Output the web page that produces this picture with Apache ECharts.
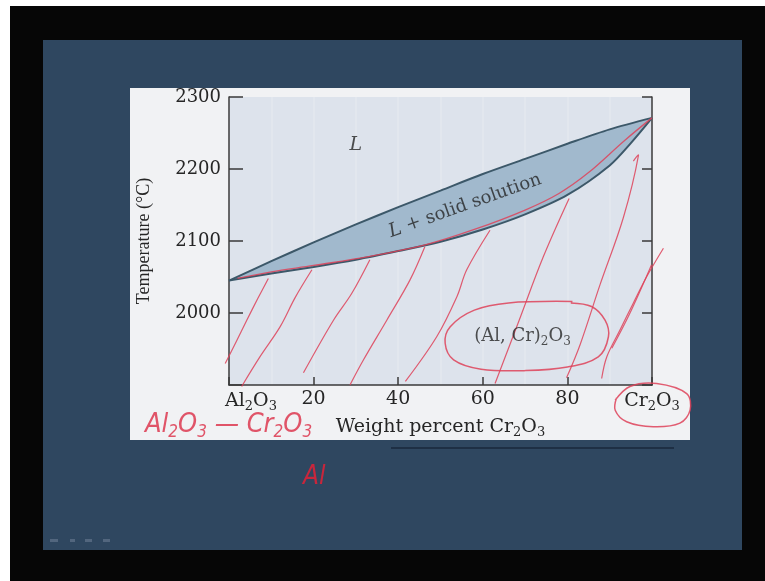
<!DOCTYPE html>
<html>
<head>
<meta charset="utf-8">
<style>
  html, body { margin: 0; padding: 0; background: #ffffff; }
  #chart { width: 765px; height: 581px; }
</style>
<script src="https://cdn.jsdelivr.net/npm/echarts@6/dist/echarts.min.js"></script>
</head>
<body>
<div id="chart"></div>
<script>
// ---- axis ticks / labels ----
const xTicks = [0, 20, 40, 60, 80, 100];
const xEndLabels = [['Al', '2', 'O', '3'], ['Cr', '2', 'O', '3']];
const yTicks = [1900, 2000, 2100, 2200, 2300];
const xName = ['Weight percent Cr', '2', 'O', '3'];
const yName = 'Temperature (°C)';

// ---- phase boundaries (wt% Cr2O3, °C) ----
const liquidus = [[0,2045],[10,2072],[20,2098],[30,2123],[40,2147],[50,2170],[60,2193],[70,2214],[80,2235],[90,2255],[100,2271]];
const solidus  = [[0,2045],[10,2055],[20,2064],[30,2074],[40,2086],[50,2099],[60,2116],[70,2137],[80,2164],[90,2205],[95,2236],[100,2271]];

// ---- region labels ----
const regionText = ['L', 'L + solid solution', ['(Al, Cr)', '2', 'O', '3']];

// ---- red pen annotations (wt% Cr2O3, °C) ----
const penTrace = [[2,2048],[10,2057],[20,2066],[33.6,2079],[46.6,2095],[58,2116],[70,2143],[78,2166],[85,2195],[93.6,2240],[100,2271]];
const hatch1 = [[-0.9,1930],[1.7,1960],[4.2,1990],[6.8,2020],[9.3,2048]];
const hatch2 = [[3.0,1898],[7.3,1939],[12.1,1981],[15.6,2021],[19.6,2060]];
const hatch3 = [[17.6,1917],[24.7,1990],[29.0,2027],[33.3,2074]];
const hatch4 = [[28.6,1900],[31.8,1935],[37.3,1990],[42.8,2046],[46.3,2092]];
const hatch5 = [[41.7,1905],[49.1,1967],[53.9,2023],[56.2,2060],[61.7,2115]];
const hatch6 = [[62.9,1902],[68.6,1990],[74.3,2078],[80.4,2159]];
const hatch7 = [[79.8,1910],[83.0,1956],[87.7,2039],[93.2,2132],[96.8,2219],[95.6,2211]];
const hatch8 = [[88.1,1909],[89.3,1939],[92.4,1976],[95.6,2014],[98.7,2050],[102.7,2090]];
const hatch9 = [[90.5,1951],[94.8,2000],[99.9,2067]];
const circleSolid = [[81.2,2016],[66.1,2014],[58.0,2004],[52.3,1981],[51.1,1958],[53.1,1935],[59.6,1922],[70.2,1920],[80.0,1925],[87.3,1939],[89.7,1967],[88.9,1990],[85.7,2009],[80.8,2014]];
const circleCr = [[91.3,1879],[94.8,1898],[101.1,1902],[108.2,1888],[109.0,1865],[106.6,1847],[100.3,1842],[94.0,1849],[91.3,1865],[91.6,1882]];
const handNote = ['Al', '2', 'O', '3', ' — Cr', '2', 'O', '3'];
const handMark = 'Al';

const strokes = [
  { pts: penTrace, w: 1.3 },
  { pts: hatch1, w: 1.2 }, { pts: hatch2, w: 1.2 }, { pts: hatch3, w: 1.2 },
  { pts: hatch4, w: 1.2 }, { pts: hatch5, w: 1.2 }, { pts: hatch6, w: 1.2 },
  { pts: hatch7, w: 1.2 }, { pts: hatch8, w: 1.2 }, { pts: hatch9, w: 1.2 },
  { pts: circleSolid, w: 1.5 }, { pts: circleCr, w: 1.5 }
];

const SERIF = '"DejaVu Serif", "Liberation Serif", serif';
const HAND = '"DejaVu Sans Condensed", "DejaVu Sans", sans-serif';
const RED = '#de4259';
const TXT = '#262626';

// rich text helper: alternating normal / subscript parts
function chem(parts, n, s) {
  return parts.map((p, i) => (i % 2 === 0 ? '{' + n + '|' + p + '}' : '{' + s + '|' + p + '}')).join('');
}

const chart = echarts.init(document.getElementById('chart'), null, { renderer: 'canvas' });

const series = [
  {
    type: 'custom', silent: true, z: 3,
    data: [[0, 0]],
    renderItem: function (params, api) {
      const pts = liquidus.map(p => api.coord(p)).concat(solidus.slice().reverse().map(p => api.coord(p)));
      return { type: 'polygon', shape: { points: pts }, style: { fill: '#a1b9cd', stroke: null } };
    }
  },
  {
    type: 'custom', silent: true, z: 6, clip: false,
    data: strokes.map((s, i) => [i, 0]),
    renderItem: function (params, api) {
      const s = strokes[params.dataIndex];
      return {
        type: 'polyline',
        shape: { points: s.pts.map(p => api.coord(p)), smooth: 0.35 },
        style: { stroke: RED, lineWidth: s.w, fill: null, opacity: 0.85 }
      };
    }
  },
  { type: 'line', data: liquidus, symbol: 'none', smooth: 0.3, silent: true, z: 5, lineStyle: { color: '#3c5869', width: 2 } },
  { type: 'line', data: solidus, symbol: 'none', smooth: 0.3, silent: true, z: 5, lineStyle: { color: '#3c5869', width: 2 } },
  {
    type: 'scatter', symbolSize: 0, silent: true, z: 7,
    data: [
      { value: [30, 2233], label: { formatter: '{i|' + regionText[0] + '}' } },
      { value: [55.8, 2149], label: { rotate: 19.5, formatter: '{i|L}{t|' + regionText[1].slice(1) + '}' } },
      { value: [69.4, 1967], label: { formatter: chem(regionText[2], 'n', 's') } }
    ],
    label: {
      show: true, position: 'inside', color: TXT,
      rich: {
        i: { fontStyle: 'italic', fontFamily: SERIF, fontSize: 19, color: TXT },
        t: { fontFamily: SERIF, fontSize: 18, color: TXT },
        n: { fontFamily: SERIF, fontSize: 18, color: TXT },
        s: { fontFamily: SERIF, fontSize: 12, color: TXT, padding: [10, 0, 0, 0] }
      }
    }
  }
];

const option = {
  animation: false,
  backgroundColor: 'transparent',
  graphic: [
    { type: 'rect', z: -20, shape: { x: 10, y: 6, width: 755, height: 575 }, style: { fill: '#060606' } },
    { type: 'rect', z: -19, shape: { x: 43, y: 40, width: 699, height: 510 }, style: { fill: '#2f4760' } },
    { type: 'rect', z: -18, shape: { x: 130, y: 88, width: 560, height: 352 }, style: { fill: '#f1f2f4' } },
    { type: 'rect', z: -17, shape: { x: 391, y: 447, width: 283, height: 2 }, style: { fill: '#1e2f44' } },
    { type: 'rect', z: -17, shape: { x: 50, y: 539, width: 8, height: 3 }, style: { fill: '#52667e' } },
    { type: 'rect', z: -17, shape: { x: 70, y: 539, width: 5, height: 3 }, style: { fill: '#52667e' } },
    { type: 'rect', z: -17, shape: { x: 85, y: 539, width: 7, height: 3 }, style: { fill: '#52667e' } },
    { type: 'rect', z: -17, shape: { x: 103, y: 539, width: 7, height: 3 }, style: { fill: '#52667e' } },
    {
      type: 'text', z: 60, x: 145, y: 408,
      style: {
        text: chem(handNote, 'h', 'hs'),
        rich: {
          h: { fill: RED, fontFamily: HAND, fontStyle: 'italic', fontSize: 27 },
          hs: { fill: RED, fontFamily: HAND, fontStyle: 'italic', fontSize: 17, padding: [16, 0, 0, 0] }
        },
        opacity: 0.9
      }
    },
    { type: 'text', z: 60, x: 303, y: 464, style: { text: handMark, fill: '#c8263c', font: 'italic 26px "DejaVu Sans Condensed", "DejaVu Sans", sans-serif' } }
  ],
  grid: {
    left: 229, right: 113, top: 97, bottom: 196,
    show: true, backgroundColor: '#dde3ec', borderWidth: 0
  },
  xAxis: {
    type: 'value', min: xTicks[0], max: xTicks[xTicks.length - 1], interval: 20,
    name: chem(xName, 'n', 's'), nameLocation: 'middle', nameGap: 31,
    nameTextStyle: {
      color: TXT,
      rich: {
        n: { fontFamily: SERIF, fontSize: 19, color: TXT },
        s: { fontFamily: SERIF, fontSize: 13, color: TXT, padding: [10, 0, 0, 0] }
      }
    },
    axisLine: { show: true, onZero: false, lineStyle: { color: '#3a3a3a', width: 1.5 } },
    axisTick: { show: true, inside: true, length: 8, lineStyle: { color: '#3a3a3a', width: 1.5 } },
    splitLine: { show: true, lineStyle: { color: 'rgba(255,255,255,0.2)', width: 1.5 } },
    minorTick: { show: false, splitNumber: 2 },
    minorSplitLine: { show: true, lineStyle: { color: 'rgba(255,255,255,0.2)', width: 1.5 } },
    axisLabel: {
      show: true, margin: 5, color: TXT, fontFamily: SERIF, fontSize: 19,
      showMinLabel: true, showMaxLabel: true, hideOverlap: false,
      formatter: function (v) {
        if (v === xTicks[0]) return '{sp|}' + chem(xEndLabels[0], 'n', 's');
        if (v === xTicks[xTicks.length - 1]) return chem(xEndLabels[1], 'n', 's');
        return '{n|' + v + '}';
      },
      rich: {
        sp: { width: 44 },
        n: { fontFamily: SERIF, fontSize: 19, color: TXT },
        s: { fontFamily: SERIF, fontSize: 13, color: TXT, padding: [10, 0, 0, 0] }
      }
    }
  },
  yAxis: [
    {
      type: 'value', min: yTicks[0], max: yTicks[yTicks.length - 1], interval: 100, position: 'left',
      name: yName, nameLocation: 'middle', nameGap: 76,
      nameTextStyle: { color: TXT, fontFamily: '"Liberation Serif", serif', fontSize: 18 },
      axisLine: { show: true, lineStyle: { color: '#3a3a3a', width: 1.5 } },
      axisTick: { show: true, inside: true, length: 14, lineStyle: { color: '#3a3a3a', width: 1.5 } },
      splitLine: { show: false },
      axisLabel: {
        margin: 8, color: TXT, fontFamily: SERIF, fontSize: 18,
        showMinLabel: true, showMaxLabel: true,
        formatter: v => (v === yTicks[0] ? '' : String(v))
      }
    },
    {
      type: 'value', min: yTicks[0], max: yTicks[yTicks.length - 1], interval: 100, position: 'right',
      axisLine: { show: true, lineStyle: { color: '#3a3a3a', width: 1.5 } },
      axisTick: { show: true, inside: true, length: 10, lineStyle: { color: '#3a3a3a', width: 1.5 } },
      splitLine: { show: false },
      axisLabel: { show: false }
    }
  ],
  series: series
};
chart.setOption(option);
</script>
</body>
</html>
